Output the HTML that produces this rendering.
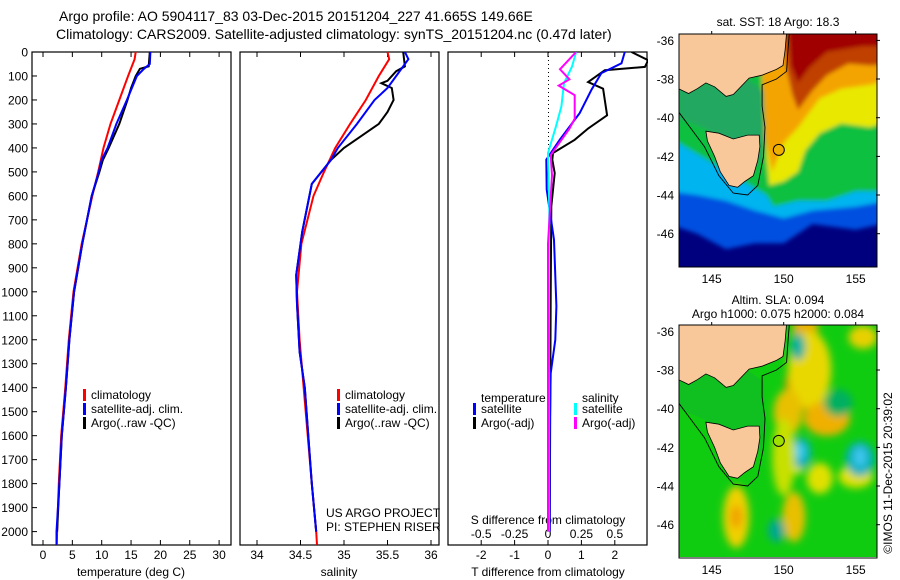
<!DOCTYPE html>
<html><head><meta charset="utf-8">
<style>
html,body{margin:0;padding:0;background:#fff;}
svg{display:block;font-family:"Liberation Sans",sans-serif;}
text{fill:#000;}
</style></head>
<body>
<svg id="fig" width="900" height="580" viewBox="0 0 900 580" xmlns="http://www.w3.org/2000/svg">
<defs>
<filter id="blur4" x="-30%" y="-30%" width="160%" height="160%"><feGaussianBlur stdDeviation="4"/></filter>
<filter id="blur2" x="-30%" y="-30%" width="160%" height="160%"><feGaussianBlur stdDeviation="2"/></filter>
<clipPath id="clipP1"><rect x="32" y="52" width="199" height="493"/></clipPath>
<clipPath id="clipP2"><rect x="240" y="52" width="199" height="493"/></clipPath>
<clipPath id="clipP3"><rect x="448" y="52" width="200" height="493"/></clipPath>
<clipPath id="clipM1"><rect x="679" y="34" width="198" height="233"/></clipPath>
<clipPath id="clipM2"><rect x="679" y="325" width="198" height="232"/></clipPath>
</defs>
<g font-size="14">
<text x="59" y="21">Argo profile: AO 5904117_83 03-Dec-2015 20151204_227 41.665S 149.66E</text>
<text x="56" y="39">Climatology: CARS2009. Satellite-adjusted climatology: synTS_20151204.nc (0.47d later)</text>
</g>
<g id="panels"></g>
<g id="maps"></g>
</svg>
<script>
// ---------- profile data ----------
const tempClimDepth = [0,30,100,200,300,400,500,600,700,800,1000,1200,1400,1600,1800,2000,2055];
const tempClimVal   = [15.8,15.6,14.5,13.0,11.5,10.3,9.4,8.4,7.5,6.6,5.2,4.4,3.8,3.1,2.7,2.4,2.35];
const tempSatDepth  = [0,50,70,100,200,300,400,450,500,600,700,800,1000,1200,1400,1600,1800,2000,2055];
const tempSatVal    = [18.3,18.2,17.2,16.0,14.3,12.5,11.0,10.0,9.5,8.3,7.5,6.7,5.3,4.5,3.9,3.2,2.8,2.3,2.3];
const tempArgoDepth = [0,60,70,100,150,200,300,400,450,500,600,800,1000,1200,1400,1600,1800,2000];
const tempArgoVal   = [18.2,18.0,16.5,15.8,15.0,14.4,13.0,11.2,10.2,9.6,8.3,6.7,5.3,4.5,3.9,3.2,2.8,2.4];
const salClimDepth  = [0,30,100,200,300,400,500,600,800,1000,1200,1500,1800,2000,2055];
const salClimVal    = [35.5,35.52,35.4,35.25,35.07,34.9,34.77,34.65,34.51,34.46,34.49,34.56,34.63,34.68,34.69];
const salSatDepth   = [0,30,100,150,200,300,400,450,550,750,930,1050,1250,1400,1600,1800,2000];
const salSatVal     = [35.70,35.74,35.6,35.5,35.35,35.15,34.93,34.85,34.63,34.52,34.45,34.46,34.49,34.55,34.59,34.63,34.68];
const salArgoDepth  = [0,60,80,120,130,150,200,250,300,350,400,450,550,750,930,1050,1250,1400,1600,1800,2000];
const salArgoVal    = [35.68,35.7,35.6,35.5,35.43,35.55,35.57,35.5,35.4,35.2,35.0,34.85,34.63,34.52,34.45,34.46,34.49,34.55,34.59,34.63,34.68];
const dTSatDepth    = [0,47,88,158,255,366,449,574,783,1060,1200,1340,1600,2000];
const dTSatVal      = [2.3,2.2,1.6,1.3,0.95,0.35,-0.05,-0.04,0.18,0.25,0.22,0.08,0.05,0.05];
const dTArgoDepth   = [0,34,62,76,125,153,264,319,366,421,449,505,644,1000,2000];
const dTArgoVal     = [2.5,3.0,2.9,1.7,1.2,1.65,1.77,1.2,0.8,0.15,0.13,0.2,0.1,0.08,0.05];
const dSSatDepth    = [0,61,130,227,310,421,644,1000,2000];
const dSSatVal      = [0.21,0.18,0.12,0.1,0.06,0.0,0.01,0.005,0.005];
const dSArgoDepth   = [0,72,114,140,180,278,320,375,430,514,800,2000];
const dSArgoVal     = [0.21,0.09,0.16,0.08,0.2,0.2,0.16,0.09,0.02,0.03,0.0,0.0];
const depthTicks = [0,100,200,300,400,500,600,700,800,900,1000,1100,1200,1300,1400,1500,1600,1700,1800,1900,2000];
const tempTicks = [0,5,10,15,20,25,30];
const salTicks = ["34","34.5","35","35.5","36"];
const dTTicks = ["-2","-1","0","1","2"];
const dSTicks = ["-0.5","-0.25","0","0.25","0.5"];

const NS='http://www.w3.org/2000/svg';
function mk(tag,attrs,parent){const e=document.createElementNS(NS,tag);for(const k in attrs)e.setAttribute(k,attrs[k]);parent.appendChild(e);return e;}
const yD = d => 52 + d*0.2398;
const xT = v => 43 + v*5.87;
const xS = v => 257 + (v-34)*87;
const xDT = v => 548 + v*33.4;
const xDS = v => 548 + v*133.6;
const panels = document.getElementById('panels');

function series(depths, vals, fx, color, clip, name, w){
  const pts = depths.map((d,i)=>fx(vals[i]).toFixed(1)+','+yD(d).toFixed(1)).join(' ');
  const p = mk('polyline',{points:pts,fill:'none',stroke:color,'stroke-width':w||2,'clip-path':'url(#'+clip+')'},panels);
  
  
}
function frame(x,name){
  const r = mk('rect',{x:x,y:52,width:199,height:493,fill:'none',stroke:'#000','stroke-width':1.2},panels);
  
  
}
function txt(x,y,s,anchor,size,name){
  const t = mk('text',{x:x,y:y,'font-size':size||12,'text-anchor':anchor||'start'},panels);
  t.textContent=s;
  
  
  return t;
}
function xticks(vals,fx,labY,name,lab){
  vals.forEach(v=>{
    const x=fx(parseFloat(v));
    mk('line',{x1:x,x2:x,y1:545,y2:540,stroke:'#000'},panels);
    mk('line',{x1:x,x2:x,y1:52,y2:57,stroke:'#000'},panels);
    if(lab!==false) txt(x,labY,String(v),'middle',12,name);
  });
}
frame(32,'temperature-panel');frame(240,'salinity-panel');frame(448,'difference-panel');
depthTicks.forEach(d=>{
  mk('line',{x1:32,x2:37,y1:yD(d),y2:yD(d),stroke:'#000'},panels);
  txt(28,yD(d)+4.5,String(d),'end',12,'depth-tick-label');
});
xticks(tempTicks,xT,559,'temperature-tick-label');
xticks(salTicks,xS,559,'salinity-tick-label');
xticks(dTTicks,xDT,559,'t-diff-tick-label');
dSTicks.forEach(v=>txt(xDS(parseFloat(v)),538,v,'middle',12,'s-diff-tick-label'));
txt(131,576,'temperature (deg C)','middle',12,'temperature-axis-title');
txt(339,576,'salinity','middle',12,'salinity-axis-title');
txt(548,576,'T difference from climatology','middle',12,'t-diff-axis-title');
txt(548,524,'S difference from climatology','middle',12,'s-diff-axis-title');
// zero dotted line
const z = mk('line',{x1:548.5,x2:548.5,y1:52,y2:150,stroke:'#000','stroke-dasharray':'1,3'},panels);



series(tempClimDepth,tempClimVal,xT,'#ff0000','clipP1','temp-climatology-line');
series(tempArgoDepth,tempArgoVal,xT,'#000000','clipP1','temp-argo-line');
series(tempSatDepth,tempSatVal,xT,'#0000ff','clipP1','temp-satellite-line');
series(salClimDepth,salClimVal,xS,'#ff0000','clipP2','sal-climatology-line');
series(salArgoDepth,salArgoVal,xS,'#000000','clipP2','sal-argo-line');
series(salSatDepth,salSatVal,xS,'#0000ff','clipP2','sal-satellite-line');
series(dTArgoDepth,dTArgoVal,xDT,'#000000','clipP3','t-diff-argo-line');
series(dTSatDepth,dTSatVal,xDT,'#0000ff','clipP3','t-diff-satellite-line');
series(dSSatDepth,dSSatVal,xDS,'#00ffff','clipP3','s-diff-satellite-line');
series(dSArgoDepth,dSArgoVal,xDS,'#ff00ff','clipP3','s-diff-argo-line');

function legend(x,y,color,label,name){
  const r=mk('rect',{x:x,y:y-9,width:3,height:12,fill:color},panels);
  
  
  txt(x+8,y+1,label,'start',12,name);
}
legend(83,398,'#ff0000','climatology','legend-climatology');
legend(83,412,'#0000ff','satellite-adj. clim.','legend-satellite');
legend(83,426,'#000000','Argo(..raw -QC)','legend-argo');
legend(337,398,'#ff0000','climatology','legend-climatology-sal');
legend(337,412,'#0000ff','satellite-adj. clim.','legend-satellite-sal');
legend(337,426,'#000000','Argo(..raw -QC)','legend-argo-sal');
txt(481,402,'temperature','start',12,'legend-temperature-heading');
txt(582,402,'salinity','start',12,'legend-salinity-heading');
legend(473,412,'#0000ff','satellite','legend-t-satellite');
legend(473,426,'#000000','Argo(-adj)','legend-t-argo');
legend(574,412,'#00ffff','satellite','legend-s-satellite');
legend(574,426,'#ff00ff','Argo(-adj)','legend-s-argo');
txt(326,517,'US ARGO PROJECT','start',12,'project-credit');
txt(326,531,'PI: STEPHEN RISER','start',12,'pi-credit');

// ---------- maps ----------
const maps=document.getElementById('maps');
function mapXY(lon,lat,top){return [(679+(lon-142.73)*14.4).toFixed(1),(top+(-35.67-lat)*19.33).toFixed(1)];}
function poly(pts,top,attrs,parent,name){
  const a=Object.assign({points:pts.map(p=>mapXY(p[0],p[1],top).join(',')).join(' ')},attrs);
  const e=mk('polygon',a,parent);
  
  
  return e;
}
const vic=[[142.7,-35.6],[150.2,-35.6],[150.1,-36.5],[149.95,-37.3],[149.5,-37.5],[148.5,-37.8],[147.6,-37.95],[146.5,-38.8],[146,-38.9],[145.2,-38.4],[144.6,-38.2],[144,-38.5],[143.4,-38.75],[142.7,-38.5]];
const tas=[[144.6,-40.7],[145.5,-40.8],[146.5,-41.1],[147.5,-40.9],[148.3,-40.9],[148.35,-41.5],[148.2,-42.2],[147.9,-43],[147.3,-43.3],[146.8,-43.6],[146.2,-43.5],[145.6,-42.8],[145.2,-42],[144.7,-41.2]];
const shelf=[[142.7,-39.7],[143.5,-40.5],[144.5,-41.5],[145.5,-43],[146.5,-43.9],[147.5,-44],[148.2,-43.5],[148.6,-42],[148.7,-40.5],[148.5,-39.4],[148.5,-38.3],[149.5,-38],[150.2,-37.6],[150.3,-36.5],[150.4,-35.6]];

function drawMap(top,clip,kind){
  const g=mk('g',{'clip-path':'url(#'+clip+')'},maps);
  
  
  const bg = kind==='sst' ? '#00007f' : '#10cc10';
  mk('rect',{x:679,y:top,width:198,height:233,fill:bg},g);
  const b=mk('g',{filter:'url(#blur2)'},g);
  if(kind==='sst'){
    poly([[142,-35],[158,-35],[158,-45.3],[155,-45.8],[152,-45.5],[150,-46.5],[148,-46.5],[146,-46.8],[144,-46],[142,-45.5]],top,{fill:'#0050e0'},b,'sst-blue-band');
    poly([[142,-35],[158,-35],[158,-44.2],[155,-44.6],[152,-44.8],[150,-45.2],[148,-44.8],[146,-44.3],[144,-44],[142,-43.8]],top,{fill:'#00b4f0'},b,'sst-cyan-band');
    poly([[142,-35],[158,-35],[158,-43.8],[155,-43.8],[153,-44.3],[151,-44.3],[149.3,-44.6],[148.8,-44],[142,-41]],top,{fill:'#10c040'},b,'sst-green-band');
    poly([[148.3,-35],[158,-35],[158,-40],[156,-40.5],[154,-40.3],[152.5,-40.8],[151.5,-41.7],[151,-42.8],[150,-43.3],[149,-43.5],[148.8,-42]],top,{fill:'#e8e800'},b,'sst-yellow-band');
    poly([[148.3,-35],[158,-35],[158,-37.9],[156,-38.3],[154,-38.5],[152.5,-39],[151,-40.5],[150,-41.3],[149.2,-42.8],[148.7,-41]],top,{fill:'#f4a400'},b,'sst-orange-band');
    poly([[149.8,-35],[158,-35],[158,-37.2],[156,-37.3],[154.5,-37.2],[153,-37.8],[152,-38.6],[151,-39.6],[150.6,-38.8],[150.2,-37.5]],top,{fill:'#c04000'},b,'sst-brown-band');
    poly([[150.3,-35],[158,-35],[158,-36.3],[155.5,-36.3],[153,-36.6],[151.8,-37.4],[151,-38.2],[150.5,-37.3]],top,{fill:'#a00000'},b,'sst-red-band');
    poly([[142.7,-38.4],[147.5,-38],[148.6,-38.6],[148.7,-40.5],[148.6,-42],[148,-42.5],[144.6,-40.6],[142.7,-40]],top,{fill:'#20a860'},b,'bass-strait-green');
  } else {
    const bl=mk('g',{filter:'url(#blur4)'},g);
    const blobs=[[151.5,-36.2,0.9,1.5,'#e8b000'],[151.3,-38.8,1.2,1.3,'#e09000'],[151.8,-38,1.5,2,'#e8d800'],[150.3,-40.2,1,1.2,'#e8c000'],[153,-40.5,1.6,0.9,'#f0b000'],[155.5,-36.3,1,0.6,'#e8d000'],[146.7,-45.6,0.9,1.6,'#f0d000'],[146.7,-45.6,0.4,0.6,'#f0a000'],[150.7,-45.6,0.8,1.3,'#e8c000'],[155,-43.5,1.2,0.6,'#e0e000'],[152.5,-43.6,0.9,0.8,'#e0e000'],[151,-42.6,0.5,0.8,'#e8e800'],[151.2,-42.3,0.7,0.8,'#00b0c0'],[151.1,-42.2,0.35,0.4,'#40d0f0'],[155.3,-42.6,1,0.9,'#00b0c0'],[155.3,-42.5,0.4,0.5,'#40c8f0'],[151,-36.8,0.5,0.7,'#00b0a0'],[153.8,-39.7,1,0.7,'#00b060'],[150,-42.5,0.8,2,'#c8e000'],[149.5,-46.3,0.6,0.6,'#00a890']];
    blobs.forEach(bb=>{
      const c=mapXY(bb[0],bb[1],top);
      const e=mk('ellipse',{cx:c[0],cy:c[1],rx:bb[2]*14.4,ry:bb[3]*19.33,fill:bb[4]},bl);
      
      
    });
    poly([[142.7,-38.4],[147.5,-38],[148.6,-38.6],[148.7,-40.5],[148.6,-42],[148,-42.5],[144.6,-40.6],[142.7,-40]],top,{fill:'#10c020'},g,'bass-strait-green');
  }
  poly(vic,top,{fill:'#f9c89a',stroke:'#000','stroke-width':0.8},g,'victoria-land');
  poly(tas,top,{fill:'#f9c89a',stroke:'#000','stroke-width':0.8},g,'tasmania-land');
  const sl=mk('polyline',{points:shelf.map(p=>mapXY(p[0],p[1],top).join(',')).join(' '),fill:'none',stroke:'#000','stroke-width':0.9},g);
  
  
  const c=mapXY(149.66,-41.665,top);
  const ci=mk('circle',{cx:c[0],cy:c[1],r:5.5,fill:kind==='sst'?'#f0b000':'#a0e000',stroke:'#000','stroke-width':1},g);
  
  
  const fr=mk('rect',{x:679,y:top,width:198,height:233,fill:'none',stroke:'#000','stroke-width':1},maps);
  
  
  [145,150,155].forEach(lon=>{
    const x=mapXY(lon,-40,top)[0];
    mk('line',{x1:x,x2:x,y1:top,y2:top-3,stroke:'#000'},maps);
    const t=mk('text',{x:x,y:top+233+16,'font-size':12,'text-anchor':'middle'},maps);
    t.textContent=String(lon);
    
    
  });
  [-36,-38,-40,-42,-44,-46].forEach(lat=>{
    const y=+mapXY(145,lat,top)[1];
    mk('line',{x1:876,x2:880,y1:y,y2:y,stroke:'#000'},maps);
    const t=mk('text',{x:674,y:y+4.5,'font-size':12,'text-anchor':'end'},maps);
    t.textContent=String(lat);
    
    
  });
}
drawMap(34,'clipM1','sst');
drawMap(325,'clipM2','sla');
function mtxt(x,y,s,name,extra){
  const t=mk('text',Object.assign({x:x,y:y,'font-size':12,'text-anchor':'middle'},extra||{}),maps);
  t.textContent=s;
  
  
}
mtxt(778,26,'sat. SST: 18 Argo: 18.3','sst-map-title');
mtxt(778,304,'Altim. SLA: 0.094','sla-map-title');
mtxt(778,318,'Argo h1000: 0.075 h2000: 0.084','argo-height-subtitle');
mtxt(892,473,'©IMOS 11-Dec-2015 20:39:02','imos-timestamp',{transform:'rotate(-90 892 473)'});
</script>
</body></html>
